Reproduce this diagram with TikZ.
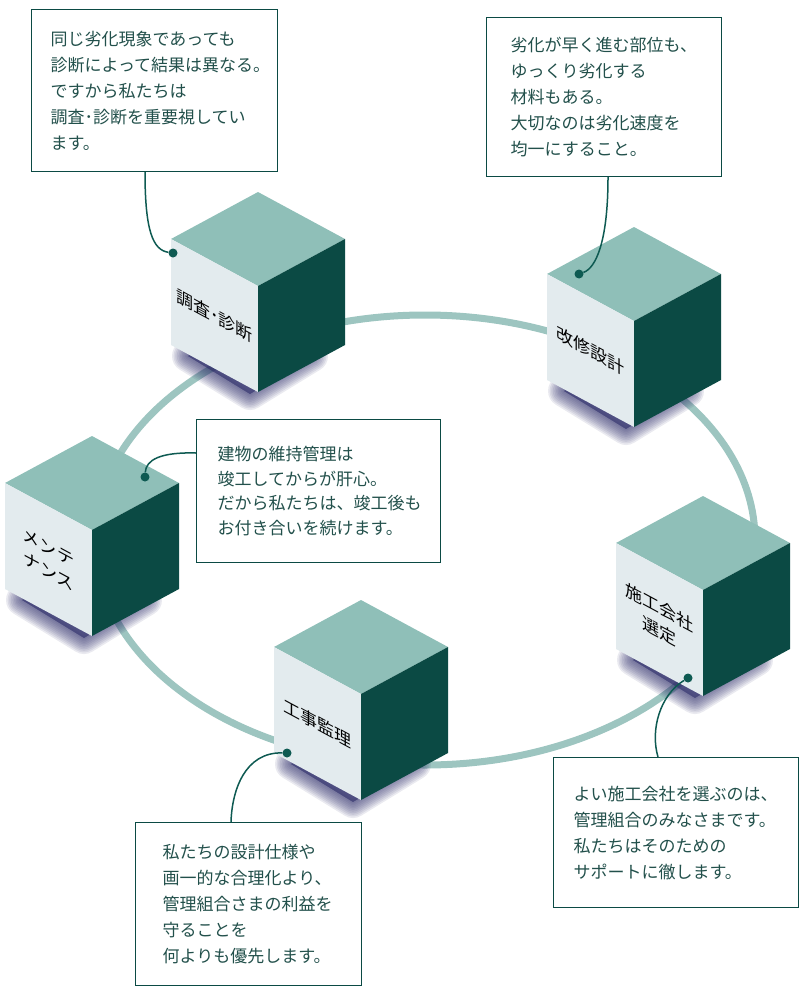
\documentclass[tikz,border=0pt]{standalone}
\usepackage{fontspec}
\usepackage{tikz}
\usetikzlibrary{calc}
\setmainfont{Noto Sans CJK JP}
\definecolor{ringteal}{HTML}{9DC5C0}
\definecolor{topteal}{HTML}{8FBFB8}
\definecolor{darkteal}{HTML}{0B4A44}
\definecolor{paleface}{HTML}{E3EBEE}
\definecolor{linkteal}{HTML}{0E5A52}
\definecolor{boxtext}{HTML}{22504B}
\definecolor{shadowcol}{HTML}{35356F}
\newcommand{\isocube}[4]{%
	\coordinate (#1) at (#2,#3);
	\fill[cubeshade] ($(#1)+(-8,108)$) -- ++(-62,-38) -- ++(62,-38) -- ++(62,38) -- cycle;
	\foreach \k in {1,...,10}
		\draw[cubeshade, line width=\k*3.2pt] ($(#1)+(-8,108)$) -- ++(-62,-38) -- ++(62,-38) -- ++(62,38) -- cycle;
	\fill[cubetop] (#1) -- ++(-87,-47) -- ++(87,-47) -- ++(87,47) -- cycle;
	\fill[cubeleft] (#1) -- ++(-87,-47) -- ++(0,106) -- ++(87,47) -- cycle;
	\fill[cuberight] (#1) -- ++(87,-47) -- ++(0,106) -- ++(-87,47) -- cycle;
	\begin{scope}[shift={(#2-43.5,#3+29.5)}, yslant=-0.54]
		\node (#1-label) at (0,0) [cubelabel] {#4};
	\end{scope}}

\begin{document}
\begin{tikzpicture}[x=1pt, y=-1pt,
	 cubetop/.style={fill=topteal},
	 cubeleft/.style={fill=paleface},
	 cuberight/.style={fill=darkteal},
	 cubeshade/.style={shadowcol, fill=shadowcol, opacity=0.1, line join=round},
	 cubelabel/.style={transform shape, align=center, inner sep=0pt, font=\fontsize{17pt}{24pt}\selectfont},
	 ring/.style={draw=ringteal, line width=7pt},
	 link/.style={draw=linkteal, line width=1.5pt},
	 linkdot/.style={circle, fill=linkteal, inner sep=0pt, minimum size=9pt},
	 infobox/.style={draw=darkteal, line width=1.2pt, fill=white, text=boxtext, align=left, anchor=north west, inner ysep=0pt, font=\fontsize{17pt}{26pt}\selectfont}]
	    \useasboundingbox (0,0) rectangle (800,990);
	    \draw[ring] (425,540) ellipse [x radius=330pt, y radius=225pt];
	    \isocube{survey}{258}{286}{調査･診断}
	    \isocube{design}{634}{321}{改修設計}
	    \isocube{upkeep}{92}{530}{メンテ\\ナンス}
	    \isocube{select}{703}{590}{施工会社\\選定}
	    \isocube{supervise}{361}{694}{工事監理}
	    \node (b1) at (31,9) [infobox, minimum width=246pt, minimum height=162pt, inner xsep=19pt, text width=208pt]
	        {同じ劣化現象であっても\\診断によって結果は異なる。\\ですから私たちは\\調査･診断を重要視してい\\ます。};
	    \node (b2) at (486,17) [infobox, minimum width=235pt, minimum height=159pt, inner xsep=24pt, text width=187pt]
	        {劣化が早く進む部位も、\\ゆっくり劣化する\\材料もある。\\大切なのは劣化速度を\\均一にすること。};
	    \node (b3) at (196,419) [infobox, minimum width=244pt, minimum height=143pt, inner xsep=21pt, text width=202pt, font=\fontsize{17pt}{24.5pt}\selectfont]
	        {建物の維持管理は\\竣工してからが肝心。\\だから私たちは、竣工後も\\お付き合いを続けます。};
	    \node (b4) at (553,757) [infobox, minimum width=245pt, minimum height=150pt, inner xsep=20pt, text width=205pt]
	        {よい施工会社を選ぶのは、\\管理組合のみなさまです。\\私たちはそのための\\サポートに徹します。};
	    \node (b5) at (135,822) [infobox, minimum width=226pt, minimum height=163pt, inner xsep=27pt, text width=172pt]
	        {私たちの設計仕様や\\画一的な合理化より、\\管理組合さまの利益を\\守ることを\\何よりも優先します。};
	    \node (d1) at (173,253) [linkdot] {};
	    \node (d2) at (579,274) [linkdot] {};
	    \node (d3) at (145,477) [linkdot] {};
	    \node (d4) at (688,678) [linkdot] {};
	    \node (d5) at (287,753) [linkdot] {};
	    \draw[link] ($(b1.south west)+(114,0)$) .. controls +(0,59) and +(-20,-3) .. (d1);
	    \draw[link] ($(b2.south west)+(122,0)$) .. controls +(0,64) and +(17,-6) .. (d2);
	    \draw[link] ($(b3.north west)+(0,34)$) .. controls +(-36,-1) and +(1,-17) .. (d3);
	    \draw[link] (d4) .. controls +(-28,17) and +(-8,-27) .. ($(b4.north west)+(105,0)$);
	    \draw[link] (d5) .. controls +(-42,-1) and +(1,-32) .. ($(b5.north west)+(96,0)$);
	 \end{tikzpicture}
\end{document}
